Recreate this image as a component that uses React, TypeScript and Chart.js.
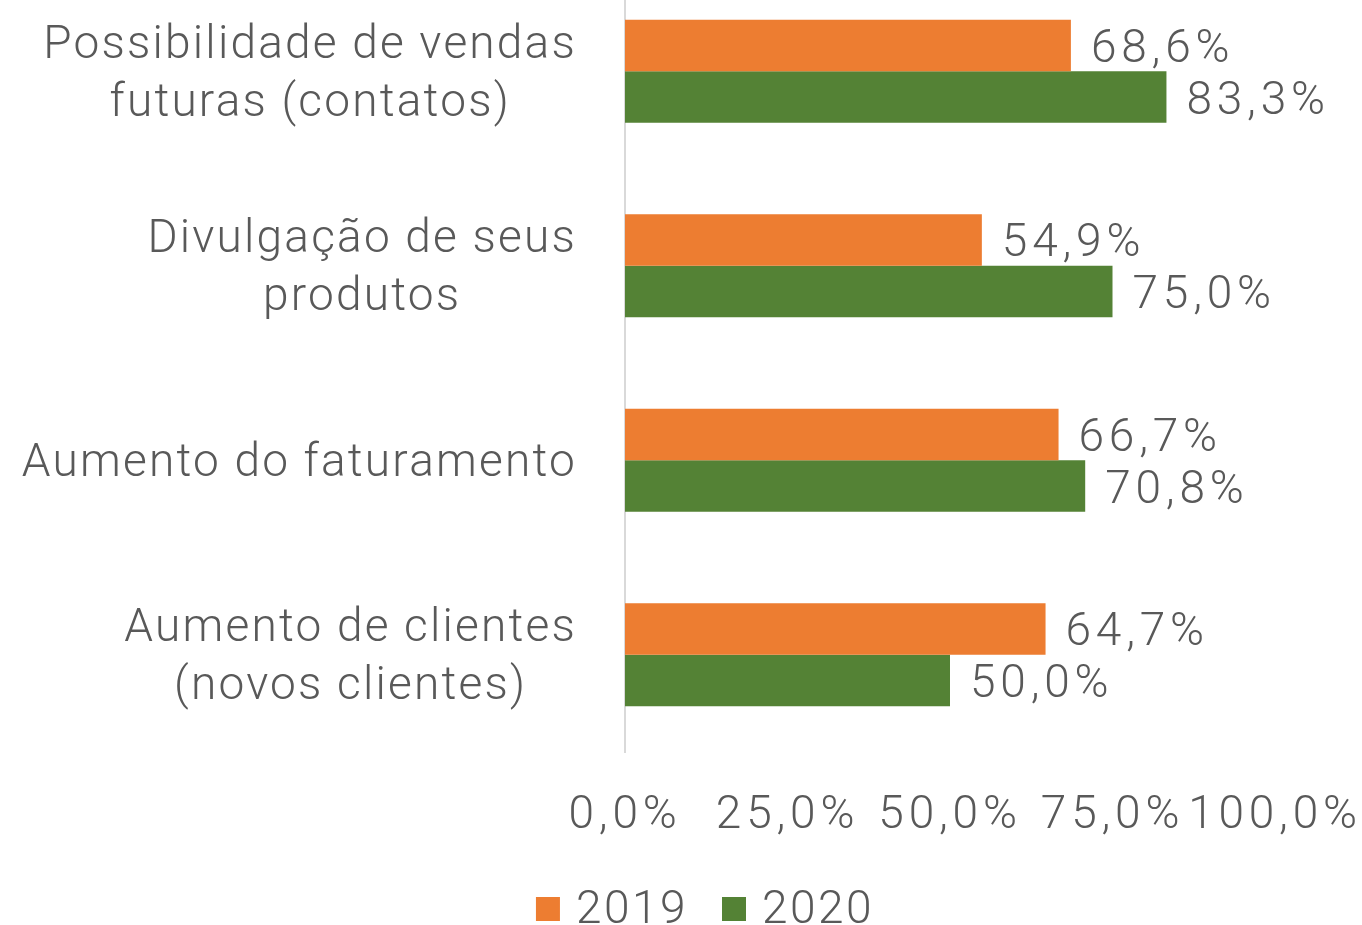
import { useEffect, useRef } from "react";
import { Chart, registerables } from "chart.js";

Chart.register(...registerables);

const categories: string[][] = [
  ["Possibilidade de vendas", "futuras (contatos)"],
  ["Divulgação de seus", "produtos"],
  ["Aumento do faturamento"],
  ["Aumento de clientes", "(novos clientes)"],
];
const values2019 = [68.6, 54.9, 66.7, 64.7];
const values2020 = [83.3, 75.0, 70.8, 50.0];
const seriesNames = ["2019", "2020"];
const seriesColors = ["#ED7D31", "#548235"];
const tickValues = [0, 25, 50, 75, 100];

const FONT = 'Roboto, "Liberation Sans", sans-serif';
const TEXT = "#595959";
const CANVAS_TOP = -26;
const fmt = (v: number) => v.toFixed(1).replace(".", ",") + "%";

const spacingPlugin = {
  id: "spacing",
  beforeDraw(chart: any) {
    (chart.ctx as any).letterSpacing = "4.8px";
  },
};

const categoryLabels = {
  id: "categoryLabels",
  afterDraw(chart: any) {
    const ctx = chart.ctx;
    const y = chart.scales.y;
    ctx.save();
    ctx.font = `300 46px ${FONT}`;
    (ctx as any).letterSpacing = "2.2px";
    ctx.fillStyle = TEXT;
    ctx.textAlign = "center";
    ctx.textBaseline = "middle";
    categories.forEach((lines, i) => {
      const cy = y.getPixelForValue(i) + 4;
      const lh = 58;
      const maxW = Math.max(...lines.map((l) => ctx.measureText(l).width));
      const cx = 577 - maxW / 2;
      lines.forEach((l, j) => {
        ctx.fillText(l, cx, cy - ((lines.length - 1) * lh) / 2 + j * lh);
      });
    });
    ctx.restore();
  },
};

const dataLabels = {
  id: "dataLabels",
  afterDatasetsDraw(chart: any) {
    const ctx = chart.ctx;
    ctx.save();
    ctx.font = `300 46px ${FONT}`;
    (ctx as any).letterSpacing = "4.8px";
    ctx.fillStyle = TEXT;
    ctx.textAlign = "left";
    ctx.textBaseline = "middle";
    chart.data.datasets.forEach((ds: any, di: number) => {
      const meta = chart.getDatasetMeta(di);
      meta.data.forEach((el: any, i: number) => {
        ctx.fillText(fmt(ds.data[i]), el.x + 20, el.y + 5);
      });
    });
    ctx.restore();
  },
};

const customLegend = {
  id: "customLegend",
  afterDraw(chart: any) {
    const ctx = chart.ctx;
    ctx.save();
    ctx.font = `300 46px ${FONT}`;
    (ctx as any).letterSpacing = "2.5px";
    ctx.textAlign = "left";
    ctx.textBaseline = "alphabetic";
    const box = 24;
    const gap = 16;
    const itemGap = 34;
    const widths = seriesNames.map((n) => box + gap + ctx.measureText(n).width);
    const total = widths.reduce((a, b) => a + b, 0) + itemGap * (seriesNames.length - 1);
    let x = 705 - total / 2;
    const baseY = 923 - CANVAS_TOP;
    seriesNames.forEach((n, i) => {
      ctx.fillStyle = seriesColors[i];
      ctx.fillRect(x, baseY - 26, box, box);
      ctx.fillStyle = TEXT;
      ctx.fillText(n, x + box + gap, baseY);
      x += widths[i] + itemGap;
    });
    ctx.restore();
  },
};

export default function App() {
  const ref = useRef<HTMLCanvasElement>(null);
  useEffect(() => {
    if (!ref.current) return;
    const chart = new Chart(ref.current, {
      type: "bar",
      data: {
        labels: categories.map((c) => c.join(" ")),
        datasets: seriesNames.map((name, i) => ({
          label: name,
          data: i === 0 ? values2019 : values2020,
          backgroundColor: seriesColors[i],
          barPercentage: 1,
          categoryPercentage: 0.53,
        })),
      },
      options: {
        indexAxis: "y",
        responsive: false,
        animation: false,
        devicePixelRatio: 1,
        layout: { padding: { left: 625, right: 87, top: 0, bottom: 0 } },
        plugins: {
          legend: { display: false },
          tooltip: { enabled: false },
        },
        scales: {
          x: {
            min: 0,
            max: 100,
            afterBuildTicks(scale: any) {
              scale.ticks = tickValues.map((v) => ({ value: v }));
            },
            afterFit(scale: any) {
              scale.paddingLeft = 0;
              scale.paddingRight = 0;
              scale.height = 187;
            },
            grid: { display: false, drawTicks: false },
            border: { display: false },
            ticks: {
              padding: 37,
              autoSkip: false,
              maxRotation: 0,
              color: TEXT,
              font: { family: FONT, size: 46, weight: "300" as any },
              callback: (v: any) => fmt(Number(v)),
            },
          },
          y: {
            grid: { display: false, drawTicks: false },
            border: { display: true, color: "#D9D9D9", width: 2 },
            ticks: { display: false },
            afterFit(scale: any) {
              scale.width = 0;
              scale.paddingTop = 0;
              scale.paddingBottom = 0;
            },
          },
        },
      },
      plugins: [spacingPlugin, categoryLabels, dataLabels, customLegend],
    });
    return () => chart.destroy();
  }, []);
  return (
    <div
      style={{
        position: "fixed",
        left: 0,
        top: 0,
        width: 1362,
        height: 925,
        overflow: "hidden",
        background: "#ffffff",
      }}
    >
      <canvas
        ref={ref}
        width={1362}
        height={965}
        style={{ position: "absolute", left: 0, top: CANVAS_TOP, width: 1362, height: 965 }}
      />
    </div>
  );
}
